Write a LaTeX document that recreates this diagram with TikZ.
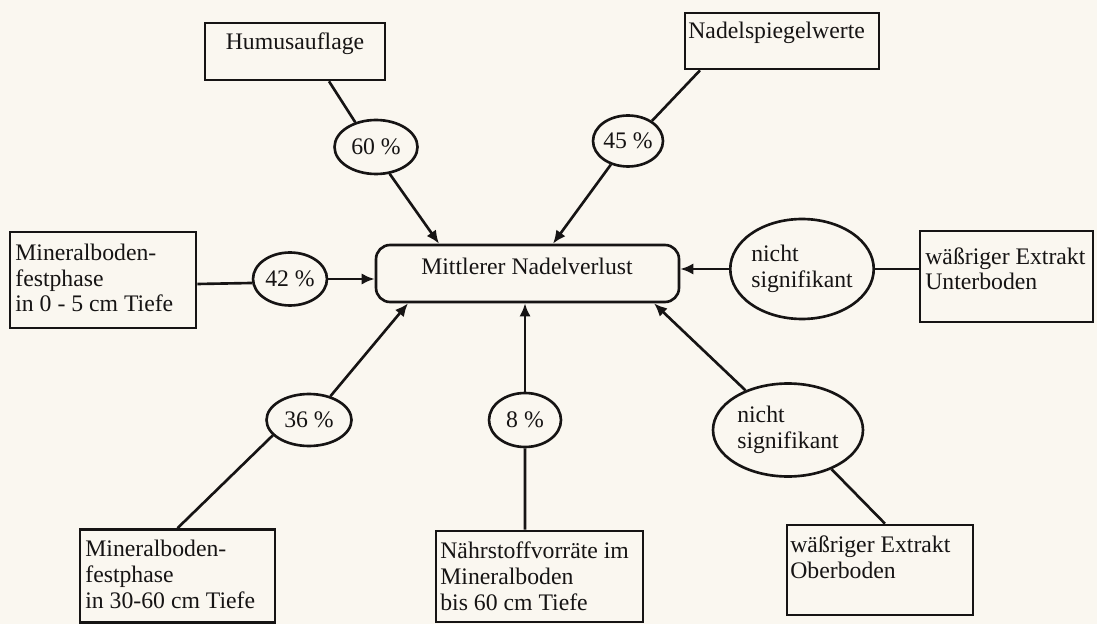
\documentclass[tikz,border=0pt]{standalone}
\usepackage{fontspec}
\setmainfont{Liberation Serif}
\usetikzlibrary{shapes.geometric,arrows.meta,calc}
\definecolor{paper}{RGB}{250,247,240}
\definecolor{ink}{RGB}{22,20,20}
\begin{document}
\begin{tikzpicture}[x=0.02cm,y=-0.02cm,
  every node/.style={font=\fontsize{13.5}{14.7}\selectfont, text=ink},
  box/.style={draw=ink, line width=1.5pt, rectangle, inner sep=0pt},
  ell/.style={draw=ink, line width=1.5pt, ellipse, inner sep=0pt},
  txt/.style={inner sep=0pt, align=left, anchor=base west},
  link/.style={draw=ink, line width=1.5pt},
  arr/.style={link, -{Latex[length=7.5pt,width=6.5pt]}}]
\fill[paper] (0,0) rectangle (1097,624);
\useasboundingbox (0,0) rectangle (1097,624);

% rectangles
\node[box, minimum width=3.6cm, minimum height=1.14cm] (humus) at (295,51.5) {};
\node[anchor=base, inner sep=0pt] at (295,50) {Humusauflage};

\node[box, minimum width=3.88cm, minimum height=1.12cm] (nadel) at (782,41) {};
\node[txt] at (688,39) {Nadelspiegelwerte};

\node[box, minimum width=3.72cm, minimum height=1.92cm] (mb05) at (103,280) {};
\node[txt] at (15,312) {Mineralboden-\\festphase\\in 0 - 5 cm Tiefe};

\node[box, rounded corners=0.28cm, minimum width=6.06cm, minimum height=1.14cm] (ctr) at (527.5,273.5) {};
\node[anchor=base, inner sep=0pt] at (527,275) {Mittlerer Nadelverlust};

\node[box, minimum width=3.46cm, minimum height=1.82cm] (unter) at (1006.5,276.5) {};
\node[txt] at (925,290) {wäßriger Extrakt\\Unterboden};

\node[box, minimum width=3.9cm, minimum height=1.86cm] (mb36) at (177.5,576) {};
\node[txt] at (85,608) {Mineralboden-\\festphase\\in 30-60 cm Tiefe};

\node[box, minimum width=4.14cm, minimum height=1.82cm] (naehr) at (539.5,576.5) {};
\node[txt] at (440,610) {Nährstoffvorräte im\\Mineralboden\\bis 60 cm Tiefe};

\node[box, minimum width=3.72cm, minimum height=1.8cm] (ober) at (880,570) {};
\node[txt] at (790,578) {wäßriger Extrakt\\Oberboden};

% ellipses
\node[ell, minimum width=1.66cm, minimum height=1.08cm] (e60) at (376,147) {60 \%};
\node[ell, minimum width=1.40cm, minimum height=1.02cm] (e45) at (628,141) {45 \%};
\node[ell, minimum width=1.48cm, minimum height=1.06cm] (e42) at (290,279) {42 \%};
\node[ell, minimum width=1.70cm, minimum height=1.04cm] (e36) at (309,420) {36 \%};
\node[ell, minimum width=1.44cm, minimum height=1.08cm] (e8) at (525,420) {8 \%};
\node[ell, minimum width=2.84cm, minimum height=2cm, align=left] (nsr) at (802,269) {nicht\\signifikant};
\node[ell, minimum width=3cm, minimum height=1.86cm, align=left] (nsl) at (788,430) {nicht\\signifikant};

% connectors
\draw[link] ([xshift=0.68cm]humus.south) -- (e60.130);
\draw[arr] (e60.-63) -- ([xshift=-1.77cm]ctr.north);

\draw[link] ([xshift=-1.64cm]nadel.south) -- (e45.40);
\draw[arr] (e45.-126) -- ([xshift=0.51cm]ctr.north);

\draw[link] ([yshift=-0.08cm]mb05.east) -- (e42.186);
\draw[arr] (e42.east) -- (e42.east -| ctr.west);

\draw[link] (nsr.east -| unter.west) -- (nsr.east);
\draw[arr] (nsr.west) -- (nsr.west -| ctr.east);

\draw[link] (mb36.north) -- (e36.-157);
\draw[arr] (e36.48) -- ([xshift=-2.39cm]ctr.south);

\draw[link] ([xshift=-0.29cm]naehr.north) -- (e8.south);
\draw[arr] (e8.north) -- (e8.north |- ctr.south);

\draw[link] ([xshift=0.1cm]ober.north) -- (nsl.-42);
\draw[arr] (nsl.137) -- ([xshift=2.53cm]ctr.south);
\end{tikzpicture}
\end{document}
